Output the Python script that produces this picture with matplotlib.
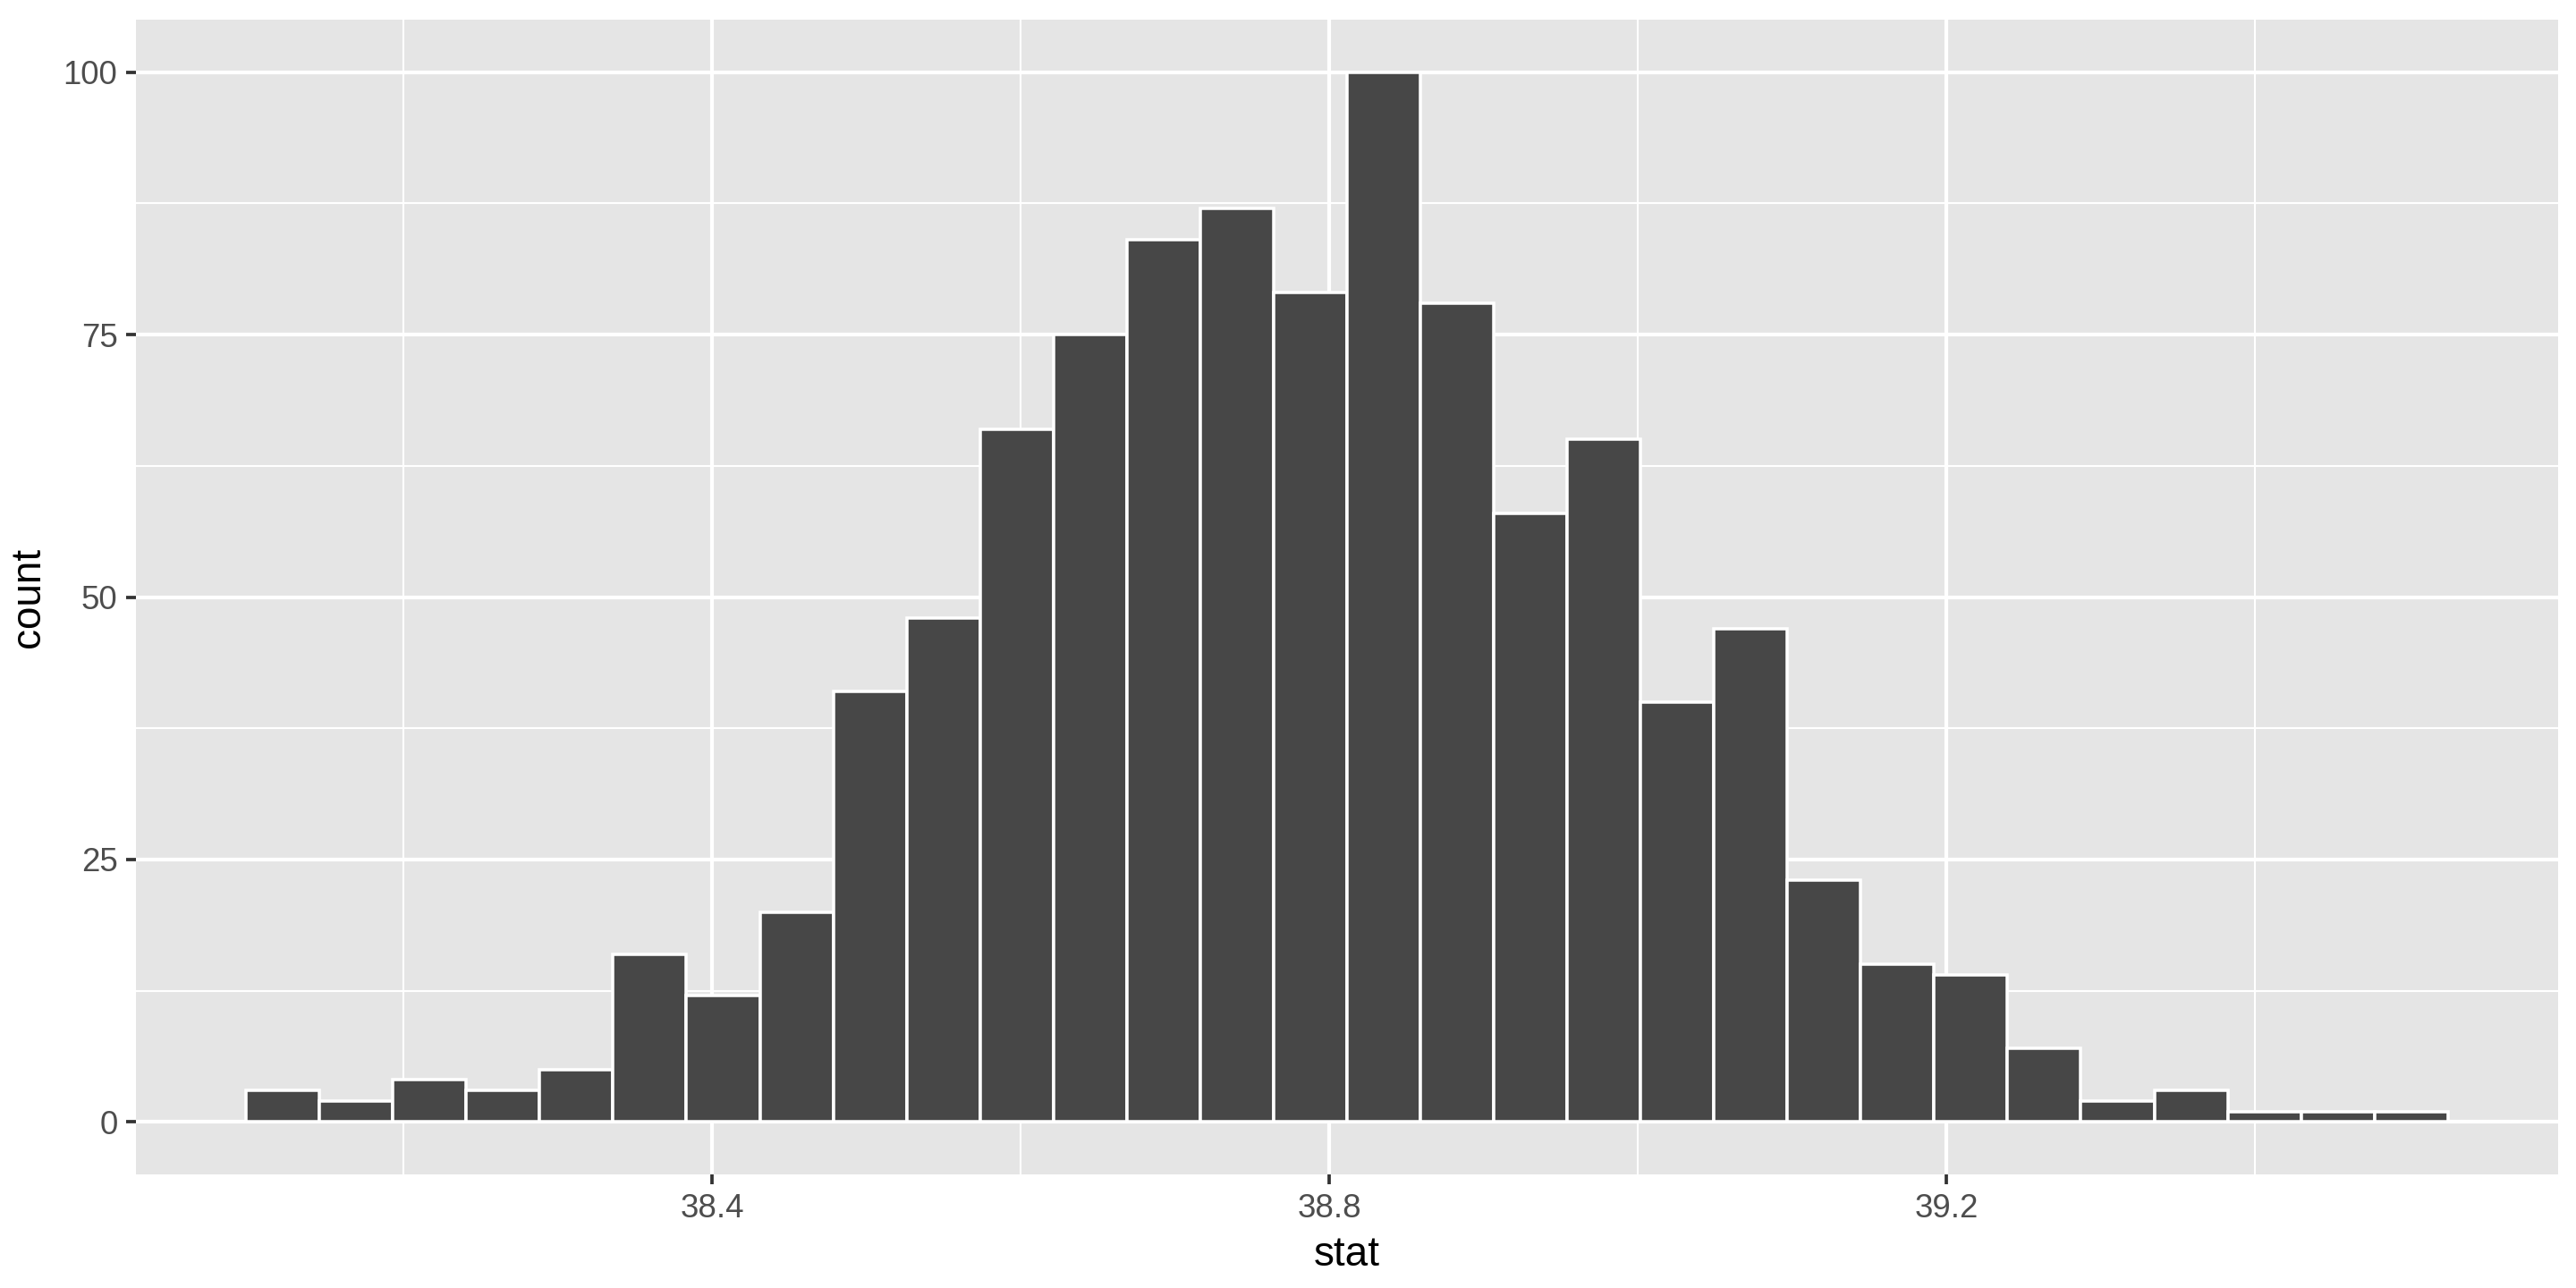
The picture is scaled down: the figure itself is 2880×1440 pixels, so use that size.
import matplotlib.pyplot as plt
import numpy as np

# histogram of the bootstrap statistic (30 bins)
bin_start = 38.098
bin_width = 0.04757
counts = [3, 2, 4, 3, 5, 16, 12, 20, 41, 48, 66, 75, 84, 87, 79,
          100, 78, 58, 65, 40, 47, 23, 15, 14, 7, 2, 3, 1, 1, 1]
x_ticks = [38.4, 38.8, 39.2]
x_minor = [38.2, 38.6, 39.0, 39.4]
y_ticks = [0, 25, 50, 75, 100]
y_minor = [12.5, 37.5, 62.5, 87.5]

plt.rcParams['font.family'] = ['Liberation Sans', 'DejaVu Sans']

edges = bin_start + bin_width * np.arange(len(counts))
span = bin_width * len(counts)
pad = span * 0.05

fig = plt.figure(figsize=(9.6, 4.8), dpi=300)
ax = fig.add_axes([0.0528, 0.0882, 0.9402, 0.8965])
ax.set_facecolor('#E5E5E5')

ax.bar(edges, counts, width=bin_width, align='edge', color='#474747',
       edgecolor='white', linewidth=0.85, zorder=3)

ax.set_xlim(bin_start - pad, bin_start + span + pad)
ax.set_ylim(-5, 105)
ax.set_xticks(x_ticks)
ax.set_xticks(x_minor, minor=True)
ax.set_yticks(y_ticks)
ax.set_yticks(y_minor, minor=True)
ax.set_xticklabels([f'{v:.1f}' for v in x_ticks])

ax.grid(which='major', color='white', linewidth=1.0, zorder=1)
ax.grid(which='minor', color='white', linewidth=0.5, zorder=1)
ax.set_axisbelow(True)

for s in ax.spines.values():
    s.set_visible(False)

ax.tick_params(which='major', length=2.75, width=0.9, color='#333333',
               labelcolor='#4D4D4D', labelsize=8.8, pad=2.2)
ax.tick_params(which='minor', length=0)

ax.set_xlabel('stat', fontsize=11, color='black', labelpad=3)
ax.set_ylabel('count', fontsize=11, color='black', labelpad=4)

fig.savefig('out.png', dpi=300)
